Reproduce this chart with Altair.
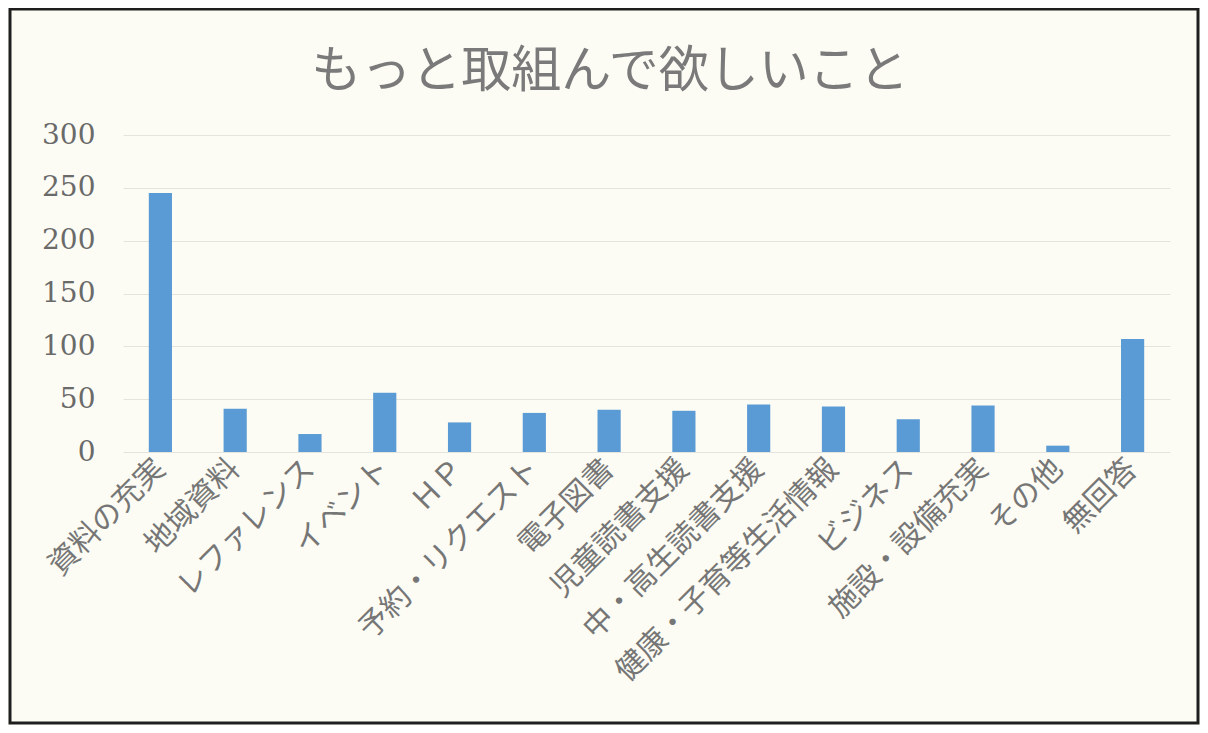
import altair as alt
import pandas as pd

categories = ["資料の充実", "地域資料", "レファレンス", "イベント", "ＨＰ",
              "予約・リクエスト", "電子図書", "児童読書支援", "中・高生読書支援",
              "健康・子育等生活情報", "ビジネス", "施設・設備充実", "その他", "無回答"]
values = [245, 41, 17, 56, 28, 37, 40, 39, 45, 43, 31, 44, 6, 107]
y_ticks = [0, 50, 100, 150, 200, 250, 300]
title_text = "もっと取組んで欲しいこと"

df = pd.DataFrame({"cat": categories, "val": values})

TEXT = "#767676"

bars = alt.Chart(df).mark_bar(color="#5b9bd5").encode(
    x=alt.X("cat:N", sort=categories,
            scale=alt.Scale(paddingInner=0.69, paddingOuter=0.345),
            axis=alt.Axis(title=None, labelAngle=-45, labelAlign="right",
                          labelBaseline="middle", labelPadding=12,
                          labelFont="Noto Sans CJK JP", labelFontSize=30,
                          labelColor=TEXT, domain=False, ticks=False,
                          labelLimit=400)),
    y=alt.Y("val:Q", scale=alt.Scale(domain=[0, 300], nice=False),
            axis=alt.Axis(title=None, values=y_ticks, labelFont="DejaVu Serif",
                          labelFontSize=28, labelColor="#6a6a6a", labelPadding=28,
                          domain=False, ticks=False, gridColor="#e4e4dc",
                          gridWidth=1.2)),
)

title_mark = alt.Chart(pd.DataFrame({"t": [title_text]})).mark_text(
    font="Noto Sans CJK JP", fontSize=50, color="#7a7a7a",
    align="center", baseline="middle"
).encode(
    text="t:N", x=alt.value(487), y=alt.value(-63),
)

frame = alt.Chart(pd.DataFrame({"a": [0]})).mark_rect(
    fillOpacity=0, stroke="#1e1e1e", strokeWidth=3
).encode(
    x=alt.value(-113), x2=alt.value(1075),
    y=alt.value(-126), y2=alt.value(588),
)

chart = alt.layer(bars, title_mark, frame).properties(
    width=1047, height=317,
    autosize=alt.AutoSizeParams(type="none"),
    padding={"left": 115, "top": 127, "right": 30, "bottom": 273},
).configure(background="#fcfcf4").configure_view(stroke=None)

chart.save("out.html", embed_options={"renderer": "svg", "actions": False})
